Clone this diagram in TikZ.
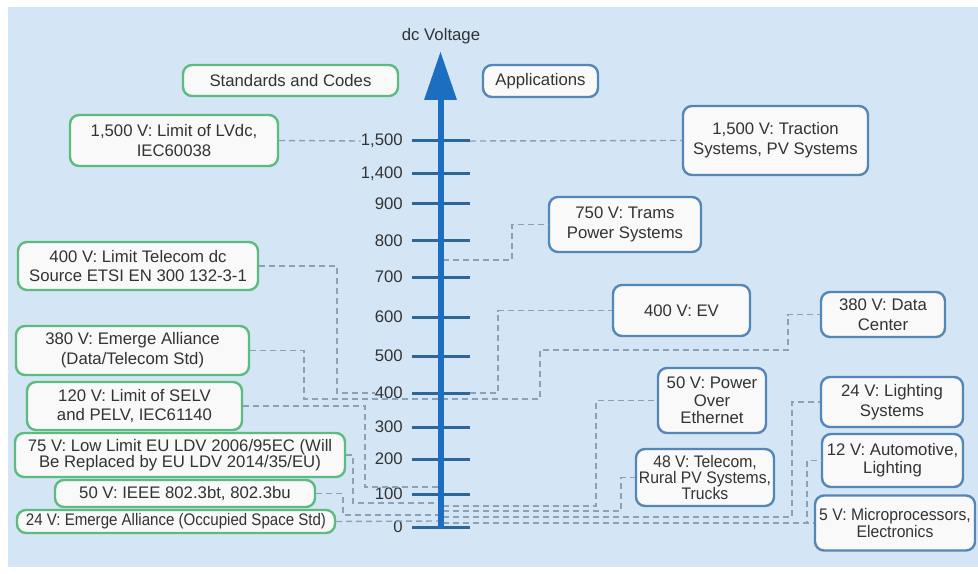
\documentclass[tikz,border=0pt]{standalone}
\usepackage{fontspec}
\setmainfont{Liberation Sans}
\newfontfamily\narrowfont[FakeStretch=0.94]{Liberation Sans}
\newfontfamily\narrowerfont[FakeStretch=0.9]{Liberation Sans}

\definecolor{bg}{HTML}{D4E6F6}
\definecolor{stdgreen}{HTML}{5CBB7E}
\definecolor{appblue}{HTML}{5487B6}
\definecolor{boxfill}{HTML}{F8F9F8}
\definecolor{txt}{HTML}{333333}
\definecolor{axisblue}{HTML}{1C6EC0}
\definecolor{tickblue}{HTML}{2D6799}
\definecolor{linkgray}{HTML}{8DA1B6}

\tikzset{
  box/.style={rounded corners=9bp, line width=2.4bp, fill=boxfill, text=txt,
    align=center, inner sep=0pt,
    font=\fontsize{16.8}{20}\selectfont},
  stdbox/.style={box, draw=stdgreen},
  appbox/.style={box, draw=appblue},
  ticklab/.style={anchor=east, text=txt, inner sep=0pt,
    font=\fontsize{16.8}{19}\selectfont},
  tickmark/.style={draw=tickblue, line width=3bp},
  link/.style={draw=linkgray, line width=1.4bp, dash pattern=on 6bp off 4bp},
}

\begin{document}
\begin{tikzpicture}[x=1bp, y=-1bp]
\useasboundingbox (0,0) rectangle (978,574);
\fill[white] (0,0) rectangle (978,574);
\fill[bg] (8,7) rectangle (978,567);

% column headers
\node[stdbox, minimum width=215bp, minimum height=31bp] (hdrS) at (290.5,80.5) {Standards and Codes};
\node[appbox, minimum width=115bp, minimum height=32bp] (hdrA) at (540.5,81) {Applications};
\node[text=txt, font=\fontsize{16.8}{19}\selectfont, inner sep=0pt] (axtitle) at (441,36) {dc Voltage};

% standards and codes (left column)
\node[stdbox, minimum width=208bp, minimum height=51bp] (s1500) at (174,140.5)
  {1,500 V: Limit of LVdc,\\IEC60038};
\node[stdbox, minimum width=240bp, minimum height=48bp] (s400) at (138,266)
  {400 V: Limit Telecom dc\\Source ETSI EN 300 132-3-1};
\node[stdbox, minimum width=233bp, minimum height=49bp] (s380) at (132.5,350.5)
  {380 V: Emerge Alliance\\(Data/Telecom Std)};
\node[stdbox, minimum width=215bp, minimum height=48bp] (s120) at (134.5,406)
  {120 V: Limit of SELV\\and PELV, IEC61140};
\node[stdbox, minimum width=330bp, minimum height=44bp, font=\fontsize{16.8}{15}\selectfont] (s75) at (180,455)
  {75 V: Low Limit EU LDV 2006/95EC (Will\\Be Replaced by EU LDV 2014/35/EU)};
\node[stdbox, minimum width=260bp, minimum height=27bp] (s50) at (185,493.5)
  {50 V: IEEE 802.3bt, 802.3bu};
\node[stdbox, minimum width=318bp, minimum height=23bp, font=\narrowerfont\fontsize{16.8}{20}\selectfont] (s24) at (176,521.5)
  {24 V: Emerge Alliance (Occupied Space Std)};

% applications (right column)
\node[appbox, minimum width=185bp, minimum height=69bp] (a1500) at (775.5,140.5)
  {1,500 V: Traction\\Systems, PV Systems};
\node[appbox, minimum width=152bp, minimum height=55bp] (a750) at (625,224.5)
  {750 V: Trams\\Power Systems};
\node[appbox, minimum width=137bp, minimum height=51bp] (a400) at (681.5,310.5)
  {400 V: EV};
\node[appbox, minimum width=124bp, minimum height=45bp] (a380) at (883,314.5)
  {380 V: Data\\Center};
\node[appbox, minimum width=108bp, minimum height=65bp, font=\fontsize{16.8}{17.5}\selectfont] (a50) at (712,400.5)
  {50 V: Power\\Over\\Ethernet};
\node[appbox, minimum width=138bp, minimum height=57bp, font=\narrowfont\fontsize{16.8}{16}\selectfont] (a48) at (705,477.5)
  {48 V: Telecom,\\Rural PV Systems,\\Trucks};
\node[appbox, minimum width=142bp, minimum height=50bp] (a24) at (892,402)
  {24 V: Lighting\\Systems};
\node[appbox, minimum width=141bp, minimum height=53bp, font=\fontsize{16.8}{18}\selectfont] (a12) at (892.5,460.5)
  {12 V: Automotive,\\Lighting};
\node[appbox, minimum width=160bp, minimum height=55bp, font=\narrowfont\fontsize{16.8}{18}\selectfont] (a5) at (895,523)
  {5 V: Microprocessors,\\Electronics};

% voltage scale: tick labels and tick end points
\foreach \yy/\lab/\nm in {141/1{,}500/1500, 174/1{,}400/1400, 204/900/900,
    241/800/800, 277/700/700, 317/600/600, 356/500/500, 393/400/400,
    427/300/300, 459/200/200, 494/100/100, 527/0/0} {
  \node[ticklab] (l\nm) at (403,\yy) {\lab};
  \coordinate (tL\nm) at (412,\yy);
  \coordinate (tR\nm) at (470,\yy);
}

% junction points on the axis shaft
\foreach \yy in {260,487,503,506,511,515,517,521,523} {
  \coordinate (axL\yy) at (438,\yy);
  \coordinate (axR\yy) at (443,\yy);
}

% standards to the scale
\draw[link] (s1500.east) -- (l1500.west);
\draw[link] (s400.east) -| (337,393) -- (l400.west);
\draw[link] (s380.east) -| (304,399) -- (540,399) |- (788,350) |- (a380.west);
\draw[link] (s120.east) -| (365,487) -- (axL487);
\draw[link] (s75.east) -| (353,503) -- (axL503);
\draw[link] (s50.east) -| (343,515) -- (axL515);
\draw[link] (s24.east) -- (axL521);

% scale to the applications
\draw[link] (tR1500) -- (a1500.west);
\draw[link] (axR260) -- (512,260) |- (a750.west);
\draw[link] (tR400) -- (498,393) |- (a400.west);
\draw[link] (axR506) -- (596,506) |- (a50.west);
\draw[link] (axR511) -- (621,511) |- (a48.west);
\draw[link] (axR517) -- (792,517) |- (a24.west);
\draw[link] (axR523) -- (807,523) |- (a12.west);
\draw[link] (axR523) -- (a5.west);

% tick marks
\foreach \nm in {1500,1400,900,800,700,600,500,400,300,200,100,0}
  \draw[tickmark] (tL\nm) -- (tR\nm);

% axis arrow
\draw[axisblue, line width=6bp] (440.5,528.5) -- (440.5,98);
\fill[axisblue] (424,100) -- (457,100) -- (440.5,52) -- cycle;
\end{tikzpicture}
\end{document}
